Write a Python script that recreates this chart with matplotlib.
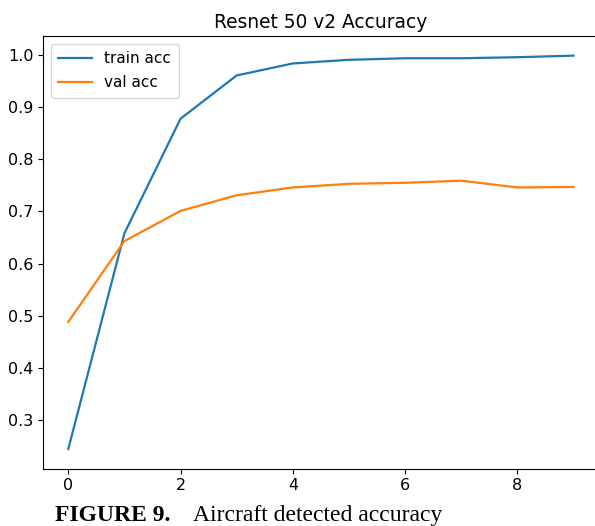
import matplotlib
matplotlib.use("Agg")
import matplotlib.pyplot as plt

# accuracy per epoch
epochs = [0, 1, 2, 3, 4, 5, 6, 7, 8, 9]
train_acc = [0.244, 0.658, 0.878, 0.961, 0.984, 0.991, 0.994, 0.994, 0.996, 0.999]
val_acc = [0.488, 0.643, 0.701, 0.731, 0.746, 0.753, 0.755, 0.759, 0.746, 0.747]

title = "Resnet 50 v2 Accuracy"
caption_bold = "FIGURE 9."
caption_text = "Aircraft detected accuracy"

plt.rcParams['font.size'] = 11.5

fig = plt.figure(figsize=(5.95, 5.26), dpi=100)
# axes run past the right edge, like the cropped original
ax = fig.add_axes([0.0723, 0.109, 0.934, 0.8226])

ax.plot(epochs, train_acc, label="train acc", lw=1.6)
ax.plot(epochs, val_acc, label="val acc", lw=1.6)
ax.set_title(title, fontsize=13.4)
ax.legend(loc="upper left", fontsize=11, handlelength=2.2,
          labelspacing=0.6, borderpad=0.5)

fig.text(55 / 595, 1 - 521 / 526, caption_bold, family="Liberation Serif",
         fontweight="bold", fontsize=17, va="baseline", ha="left")
fig.text(193 / 595, 1 - 521 / 526, caption_text, family="Liberation Serif",
         fontsize=17, va="baseline", ha="left")

fig.savefig("out.png", dpi=100, facecolor="white")
